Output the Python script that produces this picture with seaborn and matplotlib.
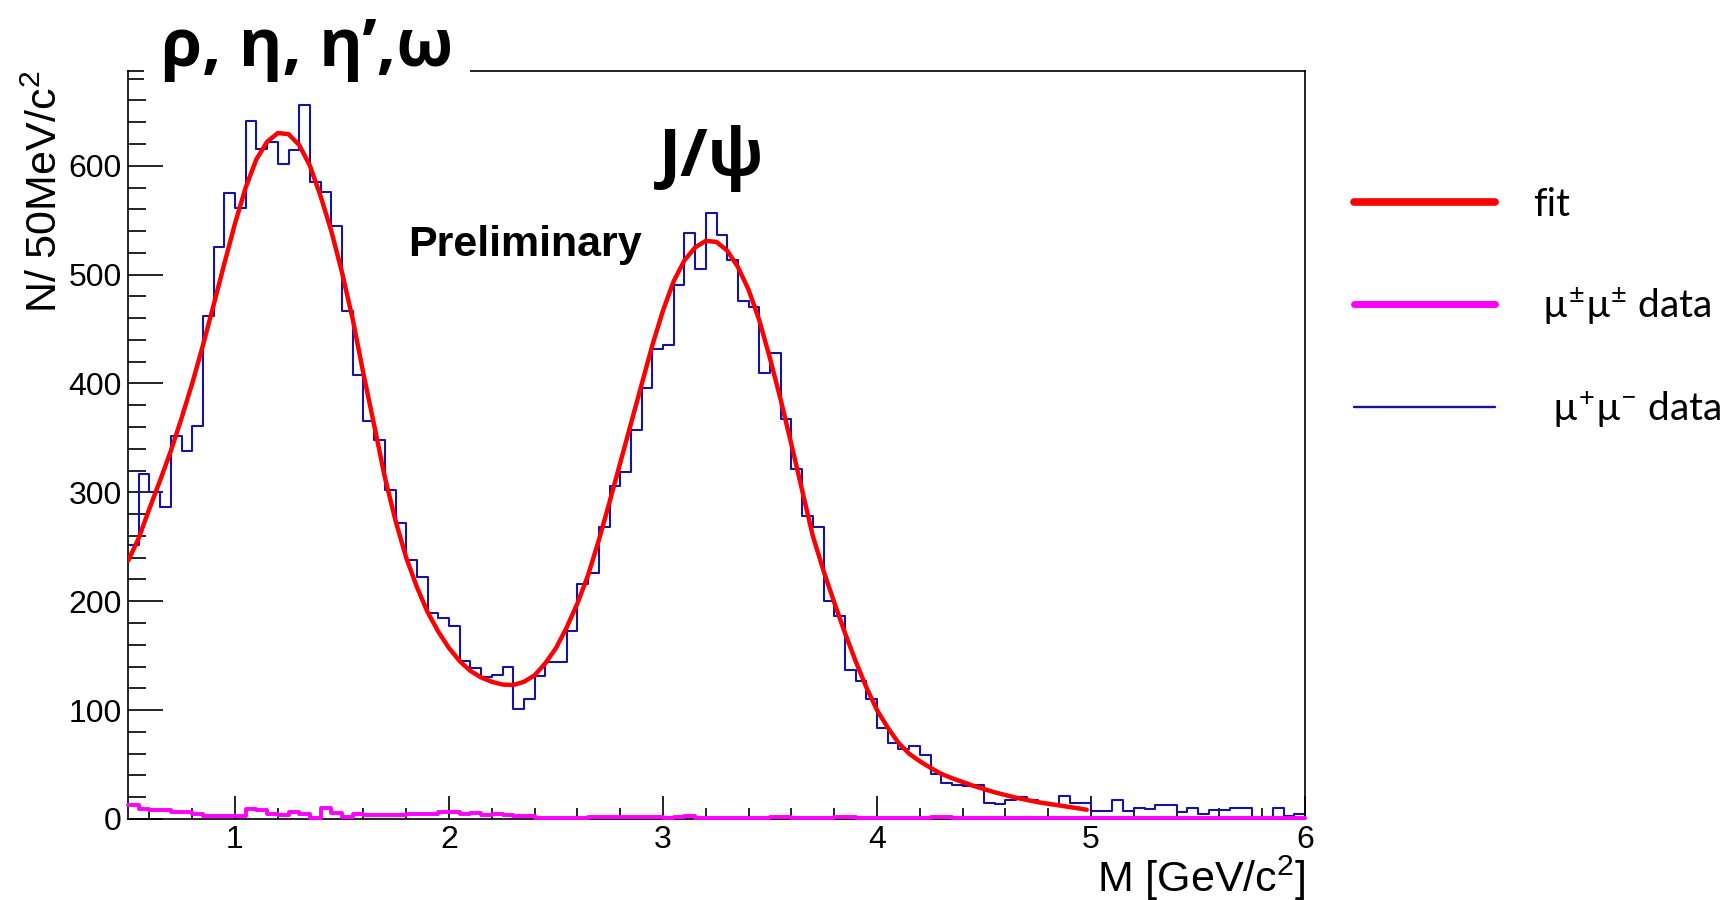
import numpy as np
import pandas as pd
import matplotlib
matplotlib.use("Agg")
import matplotlib.pyplot as plt
import seaborn as sns
from matplotlib.ticker import MultipleLocator
from matplotlib.lines import Line2D
from matplotlib.font_manager import FontProperties

# ---------------- data ----------------
bin_edges = [round(0.5 + 0.05 * i, 3) for i in range(111)]   # 0.50 ... 6.00 GeV/c^2, 50 MeV bins

# mu+ mu- (opposite sign) counts per 50 MeV bin
os_counts = [252, 317, 300, 287, 352, 338, 361, 462, 525, 575,
             561, 641, 615, 622, 602, 614, 656, 585, 576, 545,
             467, 408, 366, 348, 302, 272, 238, 222, 189, 185,
             177, 145, 139, 130, 132, 140, 101, 110, 131, 144,
             144, 173, 216, 226, 268, 306, 319, 357, 396, 432,
             435, 490, 538, 505, 557, 536, 513, 476, 470, 410,
             428, 367, 321, 278, 268, 200, 186, 137, 127, 110,
             84, 70, 64, 67, 59, 41, 33, 31, 30, 31,
             15, 14, 17, 20, 17, 15, 13, 21, 15, 15,
             7, 7, 17, 7, 10, 9, 13, 13, 6, 10,
             5, 8, 8, 10, 10, 0, 0, 10, 3, 5]

# mu+- mu+- (same sign) counts per 50 MeV bin
ss_counts = [13, 9.5, 8, 8, 6, 6.5, 4.5, 2.5, 2.5, 2.5,
             3, 9, 8, 5, 3.5, 6, 4.5, 1, 10, 5.5,
             2, 5, 4, 4, 4, 4, 4.5, 4.5, 4.5, 6,
             6, 4.5, 5.5, 4, 4.5, 4, 3, 2.5, 1, 1,
             1, 0.5, 0.5, 2, 1.5, 1.5, 1.5, 1.5, 2, 2,
             0.5, 1.5, 2.5, 0.5, 0.5, 0.5, 0.5, 0.5, 0.5, 0.5,
             1.5, 1.5, 0.5, 0.5, 0.5, 0.5, 2, 2, 0.5, 0.5,
             0.5, 0.5, 0.5, 0.5, 0.5, 1.5, 1.5, 0.5, 0.5, 0.5,
             0.5, 0.5, 0.5, 0.5, 0.5, 0.5, 0.5, 0.5, 0.5, 0.5,
             0.5, 0.5, 0.5, 0.5, 0.5, 0.5, 0.5, 0.5, 0.5, 0.5,
             0.5, 0.5, 0.5, 0.5, 0.5, 0.5, 0.5, 0.5, 0.5, 0.5]

# fit curve
fit_x = [0.50, 0.55, 0.60, 0.65, 0.70, 0.75, 0.80, 0.85, 0.90, 0.95,
         1.00, 1.05, 1.10, 1.15, 1.20, 1.25, 1.30, 1.35, 1.40, 1.45,
         1.50, 1.55, 1.60, 1.65, 1.70, 1.75, 1.80, 1.85, 1.90, 1.95,
         2.00, 2.05, 2.10, 2.15, 2.20, 2.25, 2.30, 2.35, 2.40, 2.45,
         2.50, 2.55, 2.60, 2.65, 2.70, 2.75, 2.80, 2.85, 2.90, 2.95,
         3.00, 3.05, 3.10, 3.15, 3.20, 3.25, 3.30, 3.35, 3.40, 3.45,
         3.50, 3.55, 3.60, 3.65, 3.70, 3.75, 3.80, 3.85, 3.90, 3.95,
         4.00, 4.05, 4.10, 4.15, 4.20, 4.25, 4.30, 4.35, 4.40, 4.45,
         4.50, 4.55, 4.60, 4.65, 4.70, 4.75, 4.80, 4.85, 4.90, 4.95, 4.98]
fit_y = [237, 258, 285, 311, 338, 368, 400, 435, 472, 510,
         547, 580, 606, 622, 630, 629, 619, 600, 572, 540,
         502, 459, 409, 362, 314, 274, 240, 213, 190, 172,
         157, 145, 136, 130, 126, 123.5, 123, 126, 132, 143,
         157, 176, 198, 224, 256, 291, 327, 363, 399, 435,
         467, 494, 513, 525, 531, 530, 522, 507, 486, 458,
         423, 385, 344, 302, 260, 228, 199, 171, 145, 121,
         100, 84, 70, 60, 53, 47, 41.5, 37.5, 34, 30.5,
         27.5, 24.5, 22, 19.5, 17.5, 15.5, 14, 12.5, 11, 9.5, 8.5]

legend_labels = ["fit", " \u00b5$^{\\pm}$\u00b5$^{\\pm}$ data", "  \u00b5$^{+}$\u00b5$^{-}$ data"]
x_ticks = [1, 2, 3, 4, 5, 6]
y_ticks = [0, 100, 200, 300, 400, 500, 600]

# ---------------- style ----------------
sns.set_theme(style="ticks")
plt.rcParams["font.family"] = ["Liberation Sans", "DejaVu Sans"]
plt.rcParams["mathtext.default"] = "regular"
plt.rcParams["axes.linewidth"] = 1.2
plt.rcParams["text.color"] = "black"
plt.rcParams["axes.labelcolor"] = "black"
plt.rcParams["xtick.color"] = "black"
plt.rcParams["ytick.color"] = "black"

W, H = 1723, 900
fig = plt.figure(figsize=(W / 100, H / 100), dpi=100, facecolor="white")
ax_l, ax_r, ax_b, ax_t = 128, 1305, 819, 71
ax = fig.add_axes([ax_l / W, 1 - ax_b / H, (ax_r - ax_l) / W, (ax_b - ax_t) / H])
ax.set_facecolor("white")

centers = [(a + b) / 2 for a, b in zip(bin_edges[:-1], bin_edges[1:])]
df = pd.DataFrame({"M": centers, "os": os_counts, "ss": ss_counts})
fit_df = pd.DataFrame({"M": fit_x, "fit": fit_y})

blue = "#14149e"
magenta = "#ff00ff"
red = "#ff0000"

sns.histplot(data=df, x="M", weights="os", bins=bin_edges, element="step",
             fill=False, color=blue, linewidth=1.5, ax=ax)
sns.histplot(data=df, x="M", weights="ss", bins=bin_edges, element="step",
             fill=False, color=magenta, linewidth=2.8, ax=ax)
sns.lineplot(data=fit_df, x="M", y="fit", color=red, linewidth=3.2, ax=ax,
             estimator=None, sort=True)

# magenta lies on the x axis: draw it above the spine
lines = ax.get_lines()
if len(lines) >= 2:
    lines[1].set_zorder(3)
    lines[1].set_clip_on(False)
if len(lines) >= 3:
    lines[2].set_zorder(4)

ax.set_xlim(0.5, 6.0)
ax.set_ylim(0, 687)
ax.set_xticks(x_ticks)
ax.set_yticks(y_ticks)
ax.xaxis.set_minor_locator(MultipleLocator(0.2))
ax.yaxis.set_minor_locator(MultipleLocator(20))
ax.tick_params(axis="y", which="major", direction="in", length=25, width=1.2,
               left=True, right=False, labelsize=23, pad=4.5, colors="black")
ax.tick_params(axis="y", which="minor", direction="in", length=13, width=1.2,
               left=True, right=False)
ax.tick_params(axis="x", which="major", direction="in", length=16.5, width=1.2,
               bottom=True, top=False, labelsize=23, pad=4, colors="black")
ax.tick_params(axis="x", which="minor", direction="in", length=8, width=1.2,
               bottom=True, top=False)
for s in ax.spines.values():
    s.set_color("black")
    s.set_visible(True)

ax.set_ylabel("N/ 50MeV/c$^{2}$", fontsize=31, loc="top", color="black")
ax.yaxis.set_label_coords(-0.053, 1.0)
ax.set_xlabel("M [GeV/c$^{2}$]", fontsize=31, loc="right", color="black")
ax.xaxis.set_label_coords(1.0, -0.046)

# annotations
fig.text(161 / W, 1 - 66 / H, "\u03c1, \u03b7, \u03b7\u2019,\u03c9", fontsize=48,
         fontweight="bold", family=["Open Sans", "DejaVu Sans"], ha="left",
         va="baseline", zorder=10, color="black",
         bbox=dict(facecolor="white", edgecolor="none", pad=12))
fig.text(659 / W, 1 - 176 / H, "J/\u03c8", fontsize=48, fontweight="bold",
         family=["Open Sans", "DejaVu Sans"], ha="left", va="baseline", color="black")
fig.text(408 / W, 1 - 256 / H, "Preliminary", fontsize=31, fontweight="bold",
         family=["Liberation Sans", "DejaVu Sans"], ha="left", va="baseline", color="black")

# legend (outside the frame, on the right)
handles = [Line2D([], [], color=red, lw=5.5),
           Line2D([], [], color=magenta, lw=5.0),
           Line2D([], [], color=blue, lw=1.7)]
leg = fig.legend(handles, legend_labels, loc="upper left",
                 bbox_to_anchor=(1354 / W, 1 - 187 / H), bbox_transform=fig.transFigure,
                 frameon=False, borderpad=0, borderaxespad=0, handlelength=3.62,
                 handletextpad=0.98, labelspacing=1.6,
                 prop=FontProperties(family=["Lato", "DejaVu Sans"], size=28))
for t in leg.get_texts():
    t.set_color("black")

fig.savefig("out.png", dpi=100, facecolor="white")
